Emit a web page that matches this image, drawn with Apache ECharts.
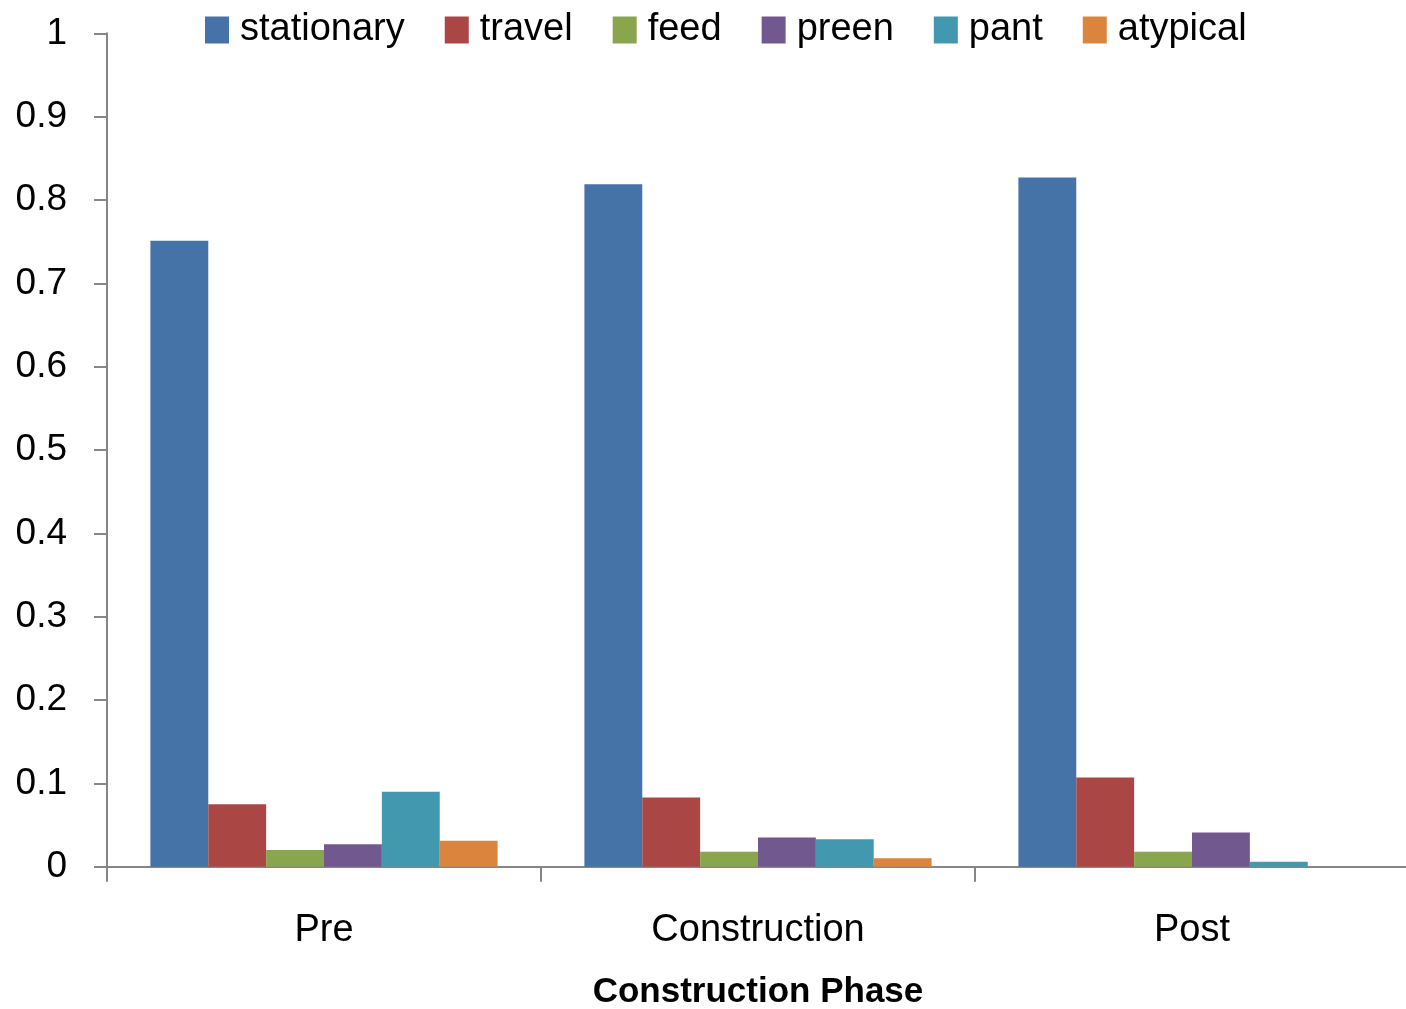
<!DOCTYPE html>
<html>
<head>
<meta charset="utf-8">
<title>Behaviour by construction phase</title>
<script src="https://cdn.jsdelivr.net/npm/echarts@6/dist/echarts.min.js"></script>
<style>
  html, body { margin: 0; padding: 0; background: #ffffff; }
  #chart { width: 1406px; height: 1009px; }
</style>
</head>
<body>
<div id="chart"></div>
<script>
// Proportion of time spent in each behaviour, per construction phase
const phases = ['Pre', 'Construction', 'Post'];
const stationary = [0.751, 0.819, 0.827];
const travel = [0.075, 0.083, 0.107];
const feed = [0.020, 0.018, 0.018];
const preen = [0.027, 0.035, 0.041];
const pant = [0.090, 0.033, 0.006];
const atypical = [0.031, 0.010, 0];
const yTicks = [0, 0.1, 0.2, 0.3, 0.4, 0.5, 0.6, 0.7, 0.8, 0.9, 1];

const behaviours = [
  { name: 'stationary', data: stationary, color: '#4572A7' },
  { name: 'travel', data: travel, color: '#AA4643' },
  { name: 'feed', data: feed, color: '#89A54E' },
  { name: 'preen', data: preen, color: '#71588F' },
  { name: 'pant', data: pant, color: '#4198AF' },
  { name: 'atypical', data: atypical, color: '#DB843D' }
];

const FONT = '"Liberation Sans", Arial, sans-serif';
const AXIS_GREY = '#868686';

const chart = echarts.init(document.getElementById('chart'), null, { renderer: 'canvas' });

chart.setOption({
  animation: false,
  backgroundColor: '#ffffff',
  legend: {
    left: 200,
    top: 6,
    itemWidth: 24,
    itemHeight: 27,
    itemGap: 40,
    icon: 'rect',
    textStyle: { fontFamily: FONT, fontSize: 38, color: '#000000', lineHeight: 27, padding: [0, 0, 0, 6] },
    data: behaviours.map(b => b.name)
  },
  grid: {
    left: 107, top: 33.3, width: 1302, height: 833.4,
    containLabel: false,
    outerBoundsMode: 'none'
  },
  xAxis: {
    type: 'category',
    data: phases,
    name: 'Construction Phase',
    nameLocation: 'middle',
    nameGap: 108,
    nameTextStyle: { fontFamily: FONT, fontSize: 35, fontWeight: 'bold', color: '#000000' },
    axisLine: { show: true, lineStyle: { color: AXIS_GREY, width: 2 } },
    axisTick: { show: true, length: 15, alignWithLabel: false, lineStyle: { color: AXIS_GREY, width: 2 } },
    axisLabel: { fontFamily: FONT, fontSize: 38, color: '#000000', margin: 45 },
    splitLine: { show: false }
  },
  yAxis: {
    type: 'value',
    min: 0,
    max: 1,
    interval: 0.1,
    axisLine: { show: true, lineStyle: { color: AXIS_GREY, width: 2 } },
    axisTick: { show: true, length: 13, lineStyle: { color: AXIS_GREY, width: 2 } },
    axisLabel: {
      fontFamily: FONT, fontSize: 37, color: '#000000', margin: 40,
      formatter: v => {
        const t = yTicks.find(x => Math.abs(x - v) < 1e-9);
        return String(t !== undefined ? t : +v.toFixed(1));
      }
    },
    splitLine: { show: false }
  },
  series: behaviours.map(b => ({
    name: b.name,
    type: 'bar',
    data: b.data,
    barGap: '0%',
    barCategoryGap: '20%',
    itemStyle: { color: b.color },
    emphasis: { disabled: true }
  }))
});
</script>
</body>
</html>
